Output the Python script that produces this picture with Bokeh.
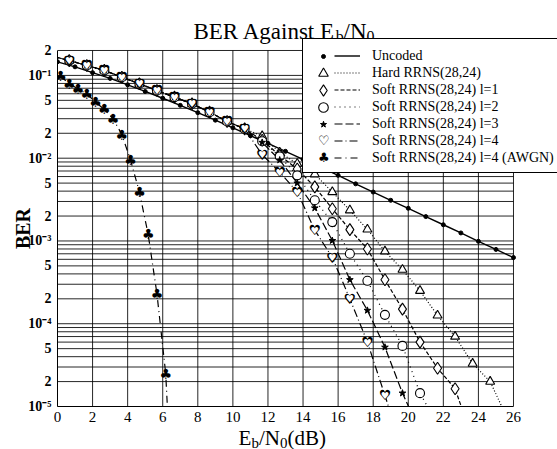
import math
from bokeh.plotting import figure
from bokeh.models import (FixedTicker, CustomJSTickFormatter, Legend, LegendItem,
                          Label, Range1d)
from bokeh.core.properties import value
from bokeh.embed import file_html
from bokeh.resources import INLINE

FONT = "Liberation Serif"
SYM_FONT = "DejaVu Sans"

# ---------------- data ----------------
uncoded_ebn0 = [0, 1, 2, 3, 4, 5, 6, 7, 8, 9, 10, 11, 12, 13, 14, 15, 16, 17, 18,
                19, 20, 21, 22, 23, 24, 25, 26]
uncoded_ber = [0.146, 0.127, 0.108, 0.092, 0.077, 0.064, 0.053, 0.0435, 0.0355,
               0.0288, 0.0233, 0.0187, 0.0151, 0.0121, 0.0097, 0.0078, 0.0062,
               0.0049, 0.0039, 0.0031, 0.00248, 0.00197, 0.00157, 0.00125,
               0.00099, 0.00079, 0.00063]

hard_ebn0 = [-0.33, 0.67, 1.67, 2.67, 3.67, 4.67, 5.67, 6.67, 7.67, 8.67, 9.67,
             10.67, 11.67, 12.67, 13.67, 14.67, 15.67, 16.67, 17.67, 18.67, 19.67,
             20.67, 21.67, 22.67, 23.67, 24.67, 25.67]
hard_ber = [0.172, 0.151, 0.132, 0.115, 0.0952, 0.0793, 0.0658, 0.0546, 0.0454,
            0.036, 0.0278, 0.0226, 0.0185, 0.0117, 0.0086, 0.0064, 0.0039, 0.00235,
            0.00138, 0.00075, 0.00045, 0.00025, 0.000126, 0.00007, 0.000033,
            0.00002, 0.000007]

soft1_ebn0 = [-0.33, 0.67, 1.67, 2.67, 3.67, 4.67, 5.67, 6.67, 7.67, 8.67, 9.67,
              10.67, 11.67, 12.67, 13.67, 14.67, 15.67, 16.67, 17.67, 18.67, 19.67,
              20.67, 21.67, 22.67, 23.67]
soft1_ber = [0.172, 0.151, 0.132, 0.115, 0.0952, 0.0793, 0.0658, 0.0546, 0.0454,
             0.036, 0.0278, 0.0226, 0.0165, 0.0108, 0.0074, 0.0045, 0.00245,
             0.00137, 0.0008, 0.00034, 0.00015, 0.00006, 0.000029, 0.0000164,
             0.000004]

soft2_ebn0 = [-0.33, 0.67, 1.67, 2.67, 3.67, 4.67, 5.67, 6.67, 7.67, 8.67, 9.67,
              10.67, 11.67, 12.67, 13.67, 14.67, 15.67, 16.67, 17.67, 18.67, 19.67,
              20.67, 21.67]
soft2_ber = [0.172, 0.151, 0.132, 0.115, 0.0952, 0.0793, 0.0658, 0.0546, 0.0454,
             0.036, 0.0278, 0.0226, 0.016, 0.0105, 0.0062, 0.0031, 0.00169, 0.0007,
             0.00033, 0.000128, 0.000054, 0.0000145, 0.000006]

soft3_ebn0 = [-0.33, 0.67, 1.67, 2.67, 3.67, 4.67, 5.67, 6.67, 7.67, 8.67, 9.67,
              10.67, 11.67, 12.67, 13.67, 14.67, 15.67, 16.67, 17.67, 18.67, 19.67,
              20.67]
soft3_ber = [0.172, 0.151, 0.132, 0.115, 0.0952, 0.0793, 0.0658, 0.0546, 0.0454,
             0.036, 0.0278, 0.0226, 0.0155, 0.0095, 0.005, 0.0025, 0.00101, 0.00034,
             0.000145, 0.000052, 0.0000145, 0.000005]

soft4_ebn0 = [-0.33, 0.67, 1.67, 2.67, 3.67, 4.67, 5.67, 6.67, 7.67, 8.67, 9.67,
              10.67, 11.67, 12.67, 13.67, 14.67, 15.67, 16.67, 17.67, 18.67, 19.67]
soft4_ber = [0.172, 0.151, 0.132, 0.115, 0.0952, 0.0793, 0.0658, 0.0546, 0.0454,
             0.036, 0.0278, 0.0226, 0.011, 0.0068, 0.0039, 0.00135, 0.00063, 0.0002,
             0.00006, 0.0000136, 0.000003]

awgn_ebn0 = [0.17, 0.67, 1.17, 1.67, 2.17, 2.67, 3.17, 3.67, 4.17, 4.67, 5.17, 5.67,
             6.17, 6.67]
awgn_ber = [0.098, 0.0793, 0.0689, 0.060, 0.0475, 0.0388, 0.0299, 0.0193, 0.0094,
            0.0039, 0.0012, 0.00023, 0.000025, 0.0000002]

series_labels = ["Uncoded", "Hard RRNS(28,24)", "Soft RRNS(28,24) l=1",
                 "Soft RRNS(28,24) l=2", "Soft RRNS(28,24) l=3",
                 "Soft RRNS(28,24) l=4", "Soft RRNS(28,24) l=4 (AWGN)"]
heart_symbol = "\u2665"         # plot: black heart with a smaller white one inside
legend_heart_symbol = "\u2661"  # legend: open heart
club_symbol = "\u2663"

x_ticks = [0, 2, 4, 6, 8, 10, 12, 14, 16, 18, 20, 22, 24, 26]
y_tick_values = [1e-5, 2e-5, 5e-5, 1e-4, 2e-4, 5e-4, 1e-3, 2e-3, 5e-3, 1e-2, 2e-2,
                 5e-2, 1e-1, 2e-1]
y_tick_labels = ["10\u207b\u2075", "2", "5", "10\u207b\u2074", "2", "5",
                 "10\u207b\u00b3", "2", "5", "10\u207b\u00b2", "2", "5",
                 "10\u207b\u00b9", "2"]
y_minor = [m * 10.0 ** e for e in range(-5, 0) for m in range(2, 10)]
y_grid = sorted(set([round(v, 12) for v in y_tick_values + y_minor
                     if y_tick_values[0] <= v <= y_tick_values[-1]]))

# ---------------- figure ----------------
# The frame fills the whole canvas so that the legend, the title and the axis
# labels (which lie outside the plot box) are not clipped; the axes are fixed
# to the plot box, which is drawn from the axis bounds and the grid segments.
X0, X1 = x_ticks[0], x_ticks[-1]
Y0, Y1 = y_tick_values[0], y_tick_values[-1]
XR = Range1d(-3.25, 28.509)
YR = Range1d(3.024e-6, 0.8037)
H = 449
p = figure(width=557, height=H, y_axis_type="log", title=None,
           x_range=XR, y_range=YR,
           output_backend="svg", toolbar_location=None,
           min_border_left=0, min_border_right=0, min_border_top=0,
           min_border_bottom=0)
p.background_fill_color = "white"
p.border_fill_color = "white"
p.outline_line_color = None
p.xgrid.visible = False
p.ygrid.visible = False

p.xaxis.ticker = FixedTicker(ticks=x_ticks)
p.yaxis.ticker = FixedTicker(ticks=y_tick_values, minor_ticks=y_minor)
p.xaxis.bounds = (X0, X1)
p.yaxis.bounds = (Y0, Y1)
p.xaxis.fixed_location = Y0
p.yaxis.fixed_location = X0

for ax in (p.xaxis, p.yaxis):
    ax.axis_line_color = "black"
    ax.axis_line_width = 1
    ax.major_tick_line_color = None
    ax.minor_tick_line_color = None
    ax.major_tick_out = 0
    ax.major_tick_in = 0
    ax.minor_tick_out = 0
    ax.minor_tick_in = 0
    ax.major_label_text_font = FONT
    ax.major_label_text_color = "black"

p.xaxis.major_label_text_font_size = "15px"
p.xaxis.major_label_standoff = 5
p.yaxis.major_label_text_font_size = "14px"
p.yaxis.major_label_text_font_style = "bold"
p.yaxis.major_label_standoff = 6
p.yaxis.formatter = CustomJSTickFormatter(
    args=dict(vals=y_tick_values, labs=y_tick_labels),
    code="""
    let best = -1, bd = 1e9
    for (let i = 0; i < vals.length; i++) {
      const d = Math.abs(Math.log10(vals[i]) - Math.log10(tick))
      if (d < bd) { bd = d; best = i }
    }
    return bd < 1e-3 ? labs[best] : ""
    """)

# grid (all major and minor lines) and plot box, drawn from the tick arrays
p.segment(x0=[X0] * len(y_grid), y0=y_grid, x1=[X1] * len(y_grid), y1=y_grid,
          line_color="black", line_width=1, line_alpha=0.85)
p.segment(x0=x_ticks, y0=[Y0] * len(x_ticks), x1=x_ticks, y1=[Y1] * len(x_ticks),
          line_color="black", line_width=1, line_alpha=0.85)

LW = 1.2
r_unc_l = p.line(uncoded_ebn0, uncoded_ber, line_color="black", line_width=1.4)
r_hard_l = p.line(hard_ebn0, hard_ber, line_color="black", line_width=LW, line_dash="1 2")
r_s1_l = p.line(soft1_ebn0, soft1_ber, line_color="black", line_width=LW, line_dash="4 2")
r_s2_l = p.line(soft2_ebn0, soft2_ber, line_color="black", line_width=LW, line_dash="1 4")
r_s3_l = p.line(soft3_ebn0, soft3_ber, line_color="black", line_width=LW, line_dash="8 3")
r_s4_l = p.line(soft4_ebn0, soft4_ber, line_color="black", line_width=LW, line_dash="8 3 1 3")
r_aw_l = p.line(awgn_ebn0, awgn_ber, line_color="black", line_width=LW, line_dash="7 4 1 4")

r_unc_m = p.scatter(uncoded_ebn0, uncoded_ber, marker="circle", size=4,
                    fill_color="black", line_color="black")
r_hard_m = p.scatter(hard_ebn0, hard_ber, marker="triangle", size=9,
                     fill_color="white", line_color="black", line_width=1.1)
r_s1_m = p.scatter(soft1_ebn0, soft1_ber, marker="diamond", size=12,
                   fill_color="white", line_color="black", line_width=1.1)
r_s2_m = p.scatter(soft2_ebn0, soft2_ber, marker="circle", size=9,
                   fill_color="white", line_color="black", line_width=1.1)
r_s3_m = p.scatter(soft3_ebn0, soft3_ber, marker="star", size=7,
                   fill_color="black", line_color="black")


def symbols(sym, xs, ys):
    # a text mark for every point that lies inside the plot box
    return [sym if (X0 <= x <= X1 and Y0 <= y <= Y1) else "" for x, y in zip(xs, ys)]


heart_txt = symbols(heart_symbol, soft4_ebn0, soft4_ber)
r_s4_m = p.text(soft4_ebn0, soft4_ber, text=heart_txt,
                text_font=value(SYM_FONT), text_font_size="14px",
                text_color="black", text_align="center", text_baseline="middle")
p.text(soft4_ebn0, soft4_ber, text=heart_txt,
       text_font=value(SYM_FONT), text_font_size="9.5px",
       text_color="white", text_align="center", text_baseline="middle")
r_aw_m = p.text(awgn_ebn0, awgn_ber, text=symbols(club_symbol, awgn_ebn0, awgn_ber),
                text_font=value(SYM_FONT), text_font_size="14px", text_color="black",
                text_align="center", text_baseline="middle")

# white bands hiding the parts of the curves outside the plot box
p.quad(left=[XR.start], right=[XR.end], bottom=[YR.start], top=[Y0],
       fill_color="white", line_color=None)
p.quad(left=[XR.start], right=[X0], bottom=[YR.start], top=[YR.end],
       fill_color="white", line_color=None)

# invisible stand-in used by legend rows that need no glyph of their own
dummy = p.line(x=[], y=[], line_alpha=0)

lines = [r_unc_l, r_hard_l, r_s1_l, r_s2_l, r_s3_l, r_s4_l, r_aw_l]

# ---------------- legend ----------------
LEG_LEFT, LEG_BOTTOM, PAD, ROW = 302, 173, 7, 17
common = dict(orientation="vertical", padding=PAD, spacing=0, margin=0,
              glyph_height=ROW, label_height=ROW)
leg_y = H - LEG_BOTTOM
# box of the legend
leg_box = Legend(
    items=[LegendItem(label=" ", renderers=[dummy]) for _ in lines],
    location=(LEG_LEFT, leg_y), glyph_width=30, label_standoff=0, label_width=240,
    label_text_font=FONT, label_text_font_size="14px",
    border_line_color="black", border_line_width=1, border_line_alpha=1,
    background_fill_color="white", background_fill_alpha=1, **common)
p.add_layout(leg_box)

# marker column: one small legend per scatter series, centred on its row
row_top = LEG_BOTTOM - (len(lines) * ROW + 2 * PAD)
MARK_X = 323
marker_rows = [(0, r_unc_m, 10), (1, r_hard_m, 24), (2, r_s1_m, 28),
               (3, r_s2_m, 24), (4, r_s3_m, 16)]
for k, rend, g in marker_rows:
    cy = row_top + PAD + ROW / 2 + ROW * k
    p.add_layout(Legend(
        items=[LegendItem(label=" ", renderers=[rend])],
        location=(MARK_X - g / 2, H - cy - g / 2), orientation="vertical",
        padding=0, spacing=0, margin=0, glyph_width=g, glyph_height=g,
        label_height=g, label_width=0, label_standoff=0,
        label_text_font_size="1px", border_line_alpha=0, background_fill_alpha=0))

# heart / club symbols in the marker column
sym_labels = [" ", " ", " ", " ", " ", legend_heart_symbol, club_symbol]
p.add_layout(Legend(
    items=[LegendItem(label=s, renderers=[dummy]) for s in sym_labels],
    location=(311, leg_y), glyph_width=0, label_standoff=0, label_width=0,
    label_text_font=SYM_FONT, label_text_font_size="13px",
    label_text_color="black",
    border_line_alpha=0, background_fill_alpha=0, **common))

# line samples + series names
leg_lines = Legend(
    items=[LegendItem(label=lab, renderers=[l]) for lab, l in zip(series_labels, lines)],
    location=(327, leg_y), glyph_width=26, label_standoff=12,
    label_text_font=FONT, label_text_font_size="14px", label_text_color="black",
    border_line_alpha=0, background_fill_alpha=0, **common)
p.add_layout(leg_lines)

# ---------------- title and axis labels ----------------
def lab(x, y, text, size, align="left", style="normal", angle=0.0, baseline="alphabetic"):
    p.add_layout(Label(x=x, y=y, x_units="screen", y_units="screen", text=text,
                       text_font=FONT, text_font_size=size, text_color="black",
                       text_font_style=style, angle=angle,
                       text_align=align, text_baseline=baseline))

# title: "BER Against E_b/N_0"
lab(334.8, 418, "BER Against E", "23px", align="right")
lab(335.3, 413.5, "b", "16px")
lab(343, 418, "/N", "23px")
lab(366, 413.5, "0", "16px")

# x label: "E_b/N_0(dB)"
lab(238, 12, "E", "21px")
lab(251, 7, "b", "15px")
lab(258.5, 12, "/N", "21px")
lab(279.5, 7, "0", "15px")
lab(287, 12, "(dB)", "21px")

# y label
lab(22, 221, "BER", "20px", align="center", style="bold", angle=math.pi / 2,
    baseline="middle")

open("out.html", "w").write(file_html(p, INLINE))
